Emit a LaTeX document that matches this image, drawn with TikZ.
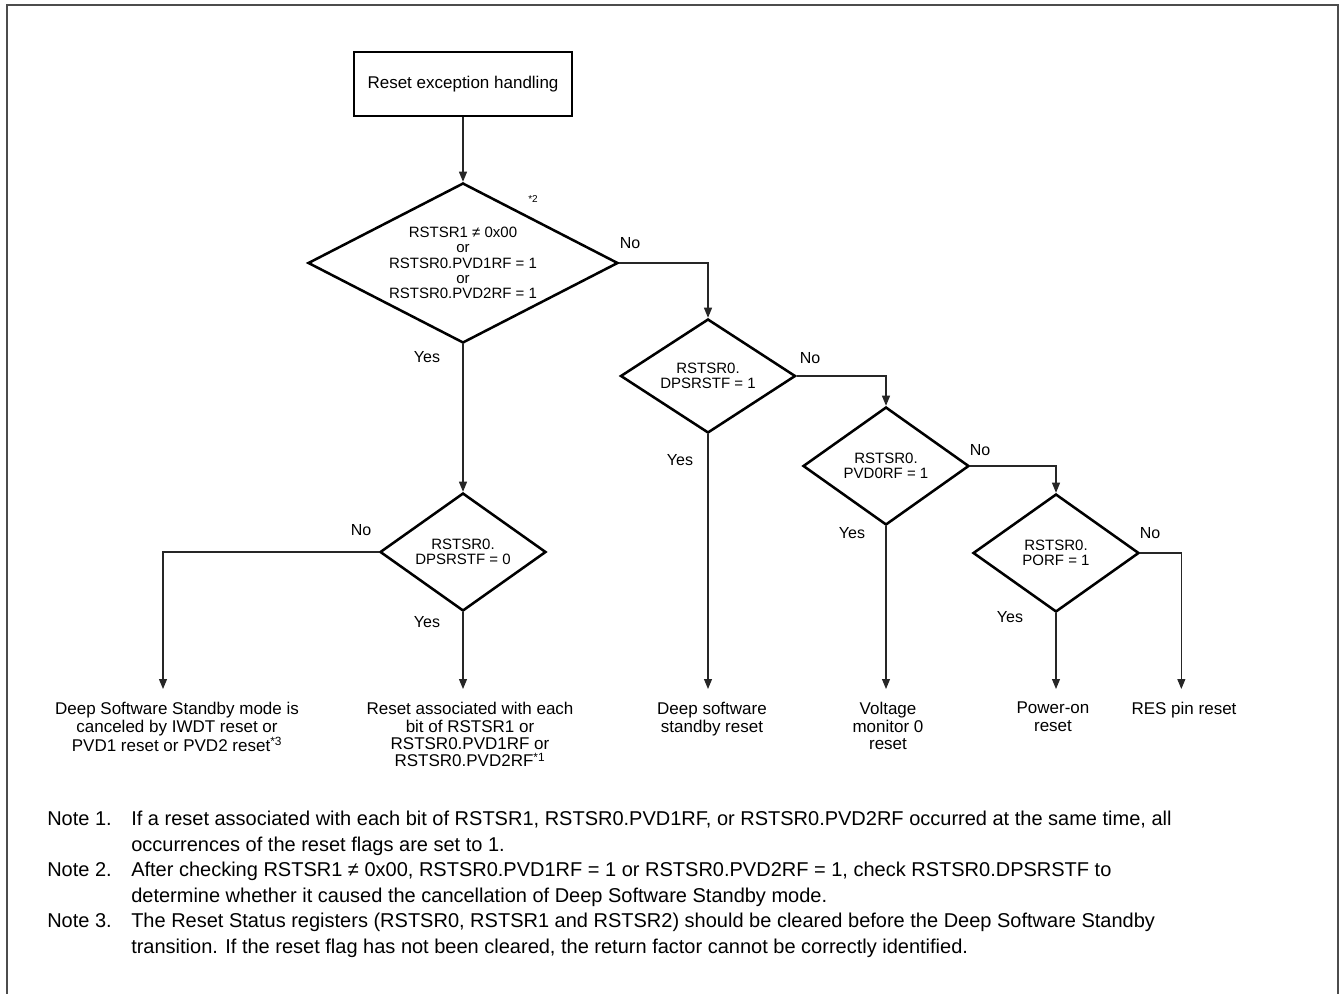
\documentclass[tikz,border=0pt]{standalone}
\usepackage{fontspec}
\setmainfont{Liberation Sans}
\usetikzlibrary{shapes.geometric,arrows.meta}

\begin{document}
\begin{tikzpicture}[x=0.75pt,y=-0.75pt,
	cond/.style={draw,diamond,line width=1.9pt,inner sep=0pt,align=center,font=\fontsize{11.25}{11.55}\selectfont},
	res/.style={align=center,inner xsep=0pt,inner ysep=9.75pt,anchor=north,font=\fontsize{12.75}{13.1}\selectfont},
	yn/.style={inner sep=0pt,font=\fontsize{12}{14}\selectfont},
	note/.style={anchor=north west,inner sep=0pt,align=left,font=\fontsize{15}{19.1}\selectfont},
	arr/.style={-{Triangle[length=7.5pt,width=6pt]},line width=0.8pt,draw=black!85}]
		\useasboundingbox (0,0) rectangle (1341,994);
		\draw[line width=1.3pt,black!70] (7,994) -- (7,5) -- (1338,5) -- (1338,994);
		\node[draw,line width=1.9pt,minimum width=163.5pt,minimum height=48pt,font=\fontsize{12.75}{14}\selectfont](s) at (463,84) {Reset exception handling};
		\node[cond,shape aspect=1.94,minimum width=232.5pt,minimum height=120pt](q1) at (463,263) {RSTSR1 ≠ 0x00\\or\\RSTSR0.PVD1RF = 1\\or\\RSTSR0.PVD2RF = 1};
		\node[cond,shape aspect=1.5,minimum width=131.25pt,minimum height=85.5pt](q2) at (708,376) {RSTSR0.\\DPSRSTF = 1};
		\node[cond,shape aspect=1.4,minimum width=124.5pt,minimum height=88.5pt](q3) at (886,466) {RSTSR0.\\PVD0RF = 1};
		\node[cond,shape aspect=1.4,minimum width=124.5pt,minimum height=88.5pt](q4) at (1056,553) {RSTSR0.\\PORF = 1};
		\node[cond,shape aspect=1.4,minimum width=124.5pt,minimum height=88.5pt](q5) at (463,552) {RSTSR0.\\DPSRSTF = 0};
		\node[inner sep=0pt,font=\fontsize{7.5}{9}\selectfont](n2) at (533,199) {*2};
		\node[res](o1) at (177,689) {Deep Software Standby mode is\\canceled by IWDT reset or\\PVD1 reset or PVD2 reset\textsuperscript{*3}};
		\node[res](o2) at (470,689) {Reset associated with each\\bit of RSTSR1 or\\RSTSR0.PVD1RF or\\RSTSR0.PVD2RF\textsuperscript{*1}};
		\node[res](o3) at (712,689) {Deep software\\standby reset};
		\node[res](o4) at (888,689) {Voltage\\monitor 0\\reset};
		\node[res](o5) at (1053,689) {Power-on\\reset};
		\node[res](o6) at (1184,689) {RES pin reset};
		\node[yn](y1) at (427,357) {Yes};
		\node[yn](m1) at (630,243) {No};
		\node[yn](m2) at (810,358) {No};
		\node[yn](y2) at (680,460) {Yes};
		\node[yn](m3) at (980,450) {No};
		\node[yn](y3) at (852,533) {Yes};
		\node[yn](m4) at (1150,533) {No};
		\node[yn](y4) at (1010,617) {Yes};
		\node[yn](m5) at (361,530) {No};
		\node[yn](y5) at (427,622) {Yes};
		\draw[arr] (s.south) -- (q1.north);
		\draw[arr] (q1.south) -- (q5.north);
		\draw[arr] (q1.east) -| (q2.north);
		\draw[arr] (q2.east) -| (q3.north);
		\draw[arr] (q3.east) -| (q4.north);
		\draw[arr] (q4.east) -| ([xshift=-2pt]o6.north);
		\draw[arr] (q5.west) -| ([xshift=-10.5pt]o1.north);
		\draw[arr] (q5.south) -- (q5.south |- o2.north);
		\draw[arr] (q2.south) -- (q2.south |- o3.north);
		\draw[arr] (q3.south) -- (q3.south |- o4.north);
		\draw[arr] (q4.south) -- (q4.south |- o5.north);
		\node[note](k1) at (47,811) {Note 1.};
		\node[note](t1) at (131,811) {If a reset associated with each bit of RSTSR1, RSTSR0.PVD1RF, or RSTSR0.PVD2RF occurred at the same time, all\\occurrences of the reset flags are set to 1.};
		\node[note](k2) at (47,862) {Note 2.};
		\node[note](t2) at (131,862) {After checking RSTSR1 ≠ 0x00, RSTSR0.PVD1RF = 1 or RSTSR0.PVD2RF = 1, check RSTSR0.DPSRSTF to\\determine whether it caused the cancellation of Deep Software Standby mode.};
		\node[note](k3) at (47,913) {Note 3.};
		\node[note](t3) at (131,913) {The Reset Status registers (RSTSR0, RSTSR1 and RSTSR2) should be cleared before the Deep Software Standby\\transition. If the reset flag has not been cleared, the return factor cannot be correctly identified.};
	\end{tikzpicture}
\end{document}
